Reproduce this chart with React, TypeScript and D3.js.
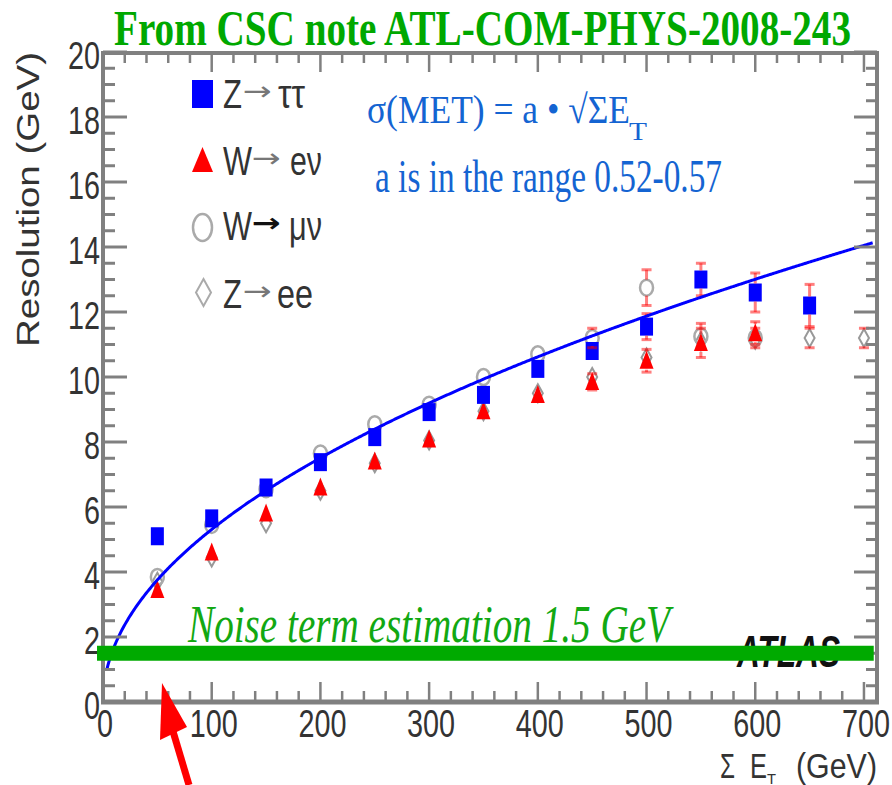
import React from 'react';
import * as d3 from 'd3';

// ---------- data ----------
const ztautauX = [50, 100, 150, 200, 250, 300, 350, 400, 450, 500, 550, 600, 650];
const ztautauY = [5.1, 5.65, 6.6, 7.38, 8.15, 8.92, 9.45, 10.25, 10.8, 11.55, 13.0, 12.6, 12.2];
const ztautauErr = [0, 0, 0, 0, 0, 0, 0, 0, 0, 0.4, 0.5, 0.6, 0.65];

const wenuX = [50, 100, 150, 200, 250, 300, 350, 400, 450, 500, 550, 600];
const wenuY = [3.45, 4.6, 5.8, 6.6, 7.4, 8.08, 8.95, 9.45, 9.85, 10.5, 11.05, 11.35];
const wenuErr = [0, 0, 0, 0, 0, 0, 0, 0, 0.25, 0.35, 0.45, 0.35];

const wmunuX = [50, 100, 150, 200, 250, 300, 350, 400, 450, 500, 550, 600];
const wmunuY = [3.85, 5.45, 6.55, 7.65, 8.55, 9.15, 10.0, 10.7, 11.2, 12.75, 11.25, 11.2];
const wmunuErr = [0, 0, 0, 0, 0, 0, 0, 0, 0.3, 0.55, 0.4, 0.3];

const zeeX = [50, 100, 150, 200, 250, 300, 350, 400, 450, 500, 550, 600, 650, 700];
const zeeY = [3.7, 4.45, 5.5, 6.5, 7.35, 8.05, 8.95, 9.5, 10.0, 10.6, 11.1, 11.15, 11.2, 11.2];
const zeeErr = [0, 0, 0, 0, 0, 0, 0, 0, 0, 0, 0, 0, 0.3, 0.3];

const fitA = 0.531; // sigma = a * sqrt(sumET)
const fitStart = 3.5;
const fitEnd = 708;
const noiseLevel = 1.5;

const xTickLabels = [0, 100, 200, 300, 400, 500, 600, 700];
const yTickLabels = [0, 2, 4, 6, 8, 10, 12, 14, 16, 18, 20];

// ---------- helpers ----------
const AX = '#808080';
const SANS = 'Liberation Sans, Arial, sans-serif';
const SERIF = 'Liberation Serif, Times New Roman, serif';
const ARROWF = 'DejaVu Sans, sans-serif';

type TP = {
  x: number; y: number; size: number; len: number; anchor?: 'start' | 'middle' | 'end';
  family?: string; weight?: string; fstyle?: string; fill?: string; children: React.ReactNode; transform?: string;
};
function T({ x, y, size, len, anchor = 'start', family = SANS, weight = 'normal', fstyle = 'normal', fill = '#333', children, transform }: TP) {
  const sx = anchor === 'start' ? x : anchor === 'end' ? x - len : x - len / 2;
  return (
    <text x={sx} y={y} fontSize={size} fontFamily={family} fontWeight={weight} fontStyle={fstyle}
      fill={fill} textLength={len} lengthAdjust="spacingAndGlyphs" transform={transform}>
      {children}
    </text>
  );
}

export default function App() {
  const x = d3.scaleLinear().domain([0, 712]).range([103, 877]);
  const y = d3.scaleLinear().domain([0, 20]).range([702, 52]);

  const xMinor = d3.range(0, 712, 20).filter((v) => v % 100 !== 0);
  const yMinor = d3.range(0, 20, 0.5).filter((v) => v % 2 !== 0);

  const fitX = d3.range(fitStart, fitEnd, 1).concat([fitEnd]);
  const fitLine = d3.line<number>().x((v) => x(v)).y((v) => y(fitA * Math.sqrt(v))).curve(d3.curveLinear);

  const errBars = (xs: number[], ys: number[], es: number[], gap: number, key: string) =>
    xs.map((xv, i) => {
      const e = es[i];
      if (!e) return null;
      const cx = x(xv), cy = y(ys[i]);
      const top = y(ys[i] + e), bot = y(ys[i] - e);
      return (
        <g key={key + i} stroke="#ff0000" strokeOpacity={0.5} strokeWidth={3}>
          {top < cy - gap && <line x1={cx} x2={cx} y1={top} y2={cy - gap} />}
          {bot > cy + gap && <line x1={cx} x2={cx} y1={cy + gap} y2={bot} />}
          <line x1={cx - 5} x2={cx + 5} y1={top} y2={top} />
          <line x1={cx - 5} x2={cx + 5} y1={bot} y2={bot} />
        </g>
      );
    });

  const legendRows = [
    { a: 'Z', b: 'ττ', base: 108, bx: 278, blen: 27, bold: false },
    { a: 'W', b: 'eν', base: 175, bx: 290, blen: 32, bold: false },
    { a: 'W', b: 'μν', base: 240, bx: 289, blen: 33, bold: true },
    { a: 'Z', b: 'ee', base: 308, bx: 277, blen: 36, bold: false },
  ];

  return (
    <svg width={892} height={785} style={{ position: 'absolute', left: 0, top: 0, background: '#fff' }}>
      <rect x={0} y={0} width={892} height={785} fill="#fff" />

      {/* title */}
      <T x={114} y={45} size={50} len={737} family={SERIF} weight="bold" fill="#00a800">
        From CSC note ATL-COM-PHYS-2008-243
      </T>

      {/* y axis title */}
      <T x={0} y={0} size={32} len={295} transform="translate(39,347) rotate(-90)" fill="#333">
        Resolution (GeV)
      </T>

      {/* tick labels */}
      {yTickLabels.map((v) => (
        <T key={'yl' + v} x={100} y={y(v) + 17} size={38} len={16 * String(v).length} anchor="end">
          {String(v)}
        </T>
      ))}
      {xTickLabels.map((v) => (
        <T key={'xl' + v} x={x(v) + 2} y={737} size={38} len={16 * String(v).length} anchor="middle">
          {String(v)}
        </T>
      ))}

      {/* x axis title */}
      <T x={720} y={778} size={35} len={15}>Σ</T>
      <T x={750} y={778} size={35} len={17}>E</T>
      <T x={767} y={784} size={15} len={9}>T</T>
      <T x={796} y={778} size={35} len={81}>(GeV)</T>

      {/* legend */}
      <rect x={192} y={80} width={21} height={28} fill="#0000ff" />
      <path d="M202.5,147 L213,172 L192,172 Z" fill="#ff0000" />
      <ellipse cx={202.5} cy={227.5} rx={9.5} ry={13.5} fill="none" stroke="#aaa" strokeWidth={2.5} />
      <path d="M203.5,279 L211,292.5 L203.5,306 L196,292.5 Z" fill="none" stroke="#aaa" strokeWidth={2} />
      {legendRows.map((r) => (
        <g key={r.a + r.b}>
          <T x={223} y={r.base} size={40} len={r.a === 'W' ? 29 : 19}>{r.a}</T>
          <T x={r.a === 'W' ? 252 : 243} y={r.base - 8} size={26} len={29} family={ARROWF}
            weight={r.bold ? 'bold' : 'normal'} fill={r.bold ? '#111' : '#777'}>→</T>
          <T x={r.bx} y={r.base} size={40} len={r.blen}>{r.b}</T>
        </g>
      ))}

      {/* formula */}
      <T x={367} y={123} size={40} len={263} family={SERIF} fill="#1464d2">σ(MET) = a • √ΣE</T>
      <T x={629} y={140} size={26} len={18} family={SERIF} fill="#1464d2">T</T>
      <T x={375} y={192} size={46} len={347} family={SERIF} fill="#1464d2">a is in the range 0.52-0.57</T>

      {/* markers */}
      {zeeX.map((xv, i) => {
        const cx = x(xv), cy = y(zeeY[i]);
        return <path key={'zee' + i} d={`M${cx},${cy - 9} L${cx + 5},${cy} L${cx},${cy + 9} L${cx - 5},${cy} Z`}
          fill="none" stroke="#999" strokeWidth={2} />;
      })}
      {wmunuX.map((xv, i) => (
        <ellipse key={'wm' + i} cx={x(xv)} cy={y(wmunuY[i])} rx={6.5} ry={8} fill="none" stroke="#aaa" strokeWidth={2.5} />
      ))}
      {wenuX.map((xv, i) => {
        const cx = x(xv), cy = y(wenuY[i]);
        return <path key={'we' + i} d={`M${cx},${cy - 10} L${cx + 7},${cy + 8} L${cx - 7},${cy + 8} Z`} fill="#ff0000" />;
      })}
      {ztautauX.map((xv, i) => (
        <rect key={'zt' + i} x={x(xv) - 6.5} y={y(ztautauY[i]) - 9} width={13} height={18} fill="#0000ff" />
      ))}

      {/* error bars */}
      {errBars(ztautauX, ztautauY, ztautauErr, 9, 'ezt')}
      {errBars(wenuX, wenuY, wenuErr, 9, 'ewe')}
      {errBars(wmunuX, wmunuY, wmunuErr, 8, 'ewm')}
      {errBars(zeeX, zeeY, zeeErr, 9, 'eze')}

      {/* fit curve */}
      <path d={fitLine(fitX) || ''} fill="none" stroke="#0000ff" strokeWidth={3} />

      {/* axes frame and ticks */}
      <g stroke={AX}>
        <line x1={103} x2={103} y1={51} y2={704} strokeWidth={4} />
        <line x1={877} x2={877} y1={51} y2={704} strokeWidth={4} />
        <line x1={101} x2={879} y1={53} y2={53} strokeWidth={4} />
        <line x1={101} x2={879} y1={702} y2={702} strokeWidth={5} />
        {xTickLabels.map((v) => (
          <g key={'xt' + v} strokeWidth={2.5}>
            <line x1={x(v)} x2={x(v)} y1={702} y2={682} />
            <line x1={x(v)} x2={x(v)} y1={53} y2={72} />
          </g>
        ))}
        {xMinor.map((v) => (
          <g key={'xm' + v} strokeWidth={2.5}>
            <line x1={x(v)} x2={x(v)} y1={702} y2={691} />
            <line x1={x(v)} x2={x(v)} y1={53} y2={63} />
          </g>
        ))}
        {yTickLabels.map((v) => (
          <g key={'yt' + v} strokeWidth={3}>
            <line x1={103} x2={127} y1={y(v)} y2={y(v)} />
            <line x1={877} x2={854} y1={y(v)} y2={y(v)} />
          </g>
        ))}
        {yMinor.map((v) => (
          <g key={'ym' + v} strokeWidth={3}>
            <line x1={103} x2={115} y1={y(v)} y2={y(v)} />
            <line x1={877} x2={866} y1={y(v)} y2={y(v)} />
          </g>
        ))}
      </g>

      {/* ATLAS label (partly covered by the noise band) */}
      <T x={737} y={667} size={44} len={103} weight="bold" fstyle="italic" fill="#111">ATLAS</T>

      {/* noise level band */}
      <line x1={x(-5.5)} x2={x(709)} y1={y(noiseLevel)} y2={y(noiseLevel)} stroke="#00aa00" strokeWidth={15} />
      <T x={188} y={642} size={52} len={482} family={SERIF} fstyle="italic" fill="#12a812">
        Noise term estimation 1.5 GeV
      </T>

      {/* red arrow annotation */}
      <line x1={172} y1={728} x2={189} y2={785} stroke="#ff0000" strokeWidth={7} />
      <path d="M162,683 L187,727 L160,740 Z" fill="#ff0000" />
    </svg>
  );
}
